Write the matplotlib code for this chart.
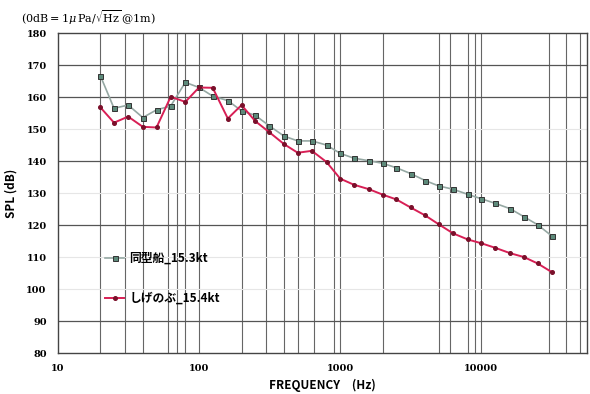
import numpy as np
import matplotlib
matplotlib.use("Agg")
import matplotlib.pyplot as plt

plt.rcParams['font.family'] = ['Noto Sans CJK JP', 'DejaVu Sans']
plt.rcParams['mathtext.fontset'] = 'dejavuserif'

# 1/3 octave band centre frequencies (Hz)
freq = [20, 25, 31.5, 40, 50, 63, 80, 100, 125, 160, 200, 250, 315, 400, 500,
        630, 800, 1000, 1250, 1600, 2000, 2500, 3150, 4000, 5000, 6300, 8000,
        10000, 12500, 16000, 20000, 25000, 31500]

# 同型船 15.3kt
spl_sister = [166.7, 156.5, 157.5, 153.6, 156.0, 157.2, 164.6, 163.0, 160.3,
              158.9, 155.7, 154.3, 151.0, 147.8, 146.3, 146.3, 145.0, 142.4,
              140.9, 140.1, 139.3, 137.9, 136.1, 133.9, 132.2, 131.2, 129.6,
              128.2, 126.8, 125.1, 122.6, 120.1, 116.6]

# しげのぶ 15.4kt
spl_shigenobu = [156.8, 152.0, 153.9, 150.7, 150.5, 160.1, 158.5, 163.0, 162.9,
                 153.3, 157.5, 152.5, 149.0, 145.3, 142.6, 143.2, 139.7, 134.5,
                 132.6, 131.2, 129.5, 128.0, 125.5, 123.0, 120.2, 117.4, 115.5,
                 114.3, 112.9, 111.2, 110.0, 108.0, 105.3]

# grid lines as drawn on the original sheet
vgrid = [20, 30, 40, 60, 70, 80, 100, 200, 300, 400, 500, 650, 900, 1000,
         2000, 5000, 6000, 8000, 9000, 10000, 30000, 40000, 50000]
hgrid_dark = [170, 160, 140, 120, 90]
hgrid_light = [150, 130, 110, 100]

fig = plt.figure(figsize=(5.9, 3.94), dpi=100)
ax = fig.add_axes([0.098, 0.104, 0.897, 0.812])

for f in vgrid:
    ax.axvline(f, color='#666666', lw=0.8, zorder=1)
for y in hgrid_dark:
    ax.axhline(y, color='#555555', lw=0.9, zorder=1)
for y in hgrid_light:
    ax.axhline(y, color='#e6e6e6', lw=0.8, zorder=1)

ax.plot(freq, spl_sister, color='#95a8a3', lw=1.2, marker='s', ms=3.6,
        mfc='#5d8a7a', mec='#333333', mew=0.7, zorder=3,
        label='同型船_15.3kt')
ax.plot(freq, spl_shigenobu, color='#d81f55', lw=1.4, marker='o', ms=2.6,
        mfc='#7a0f2a', mec='#7a0f2a', zorder=4,
        label='しげのぶ_15.4kt')

ax.set_xscale('log')
ax.set_xlim(10, 56000)
ax.set_ylim(80, 180)
ax.set_yticks(np.arange(80, 181, 10))
ax.set_xticks([10, 100, 1000, 10000])
ax.set_xticklabels(['10', '100', '1000', '10000'])
ax.xaxis.set_minor_locator(matplotlib.ticker.NullLocator())
ax.tick_params(length=0, labelsize=7, pad=8)
for lab in ax.get_yticklabels() + ax.get_xticklabels():
    lab.set_fontweight('bold')
    lab.set_family('DejaVu Serif')
for s in ax.spines.values():
    s.set_color('#444444')
    s.set_linewidth(1.0)

ax.set_xlabel('FREQUENCY　(Hz)', fontsize=8.5, fontweight='bold', labelpad=4)
ax.set_ylabel('SPL (dB)', fontsize=8.5, fontweight='bold', labelpad=6)

leg = ax.legend(loc='upper left', bbox_to_anchor=(0.07, 0.35), frameon=False,
                fontsize=8.5, handlelength=1.6, labelspacing=2.3,
                handletextpad=0.4)
for t in leg.get_texts():
    t.set_fontweight('bold')

fig.text(0.035, 0.955, r'$(0\mathrm{dB}=1\mu\,\mathrm{Pa}/\sqrt{\mathrm{Hz}}\,@1\mathrm{m})$',
         fontsize=8, ha='left', va='center')

fig.savefig('out.png', dpi=100)
